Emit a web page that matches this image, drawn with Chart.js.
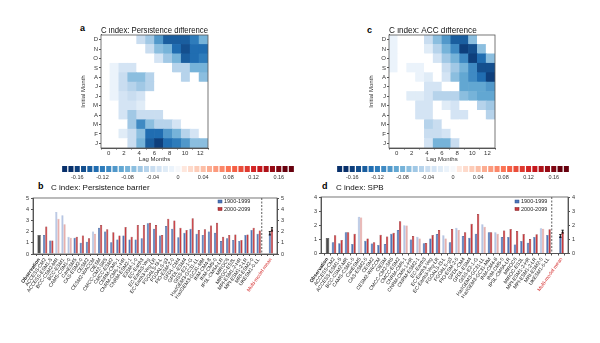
<!DOCTYPE html>
<html>
<head>
<meta charset="utf-8">
<title>C index: persistence and spring predictability barrier</title>
<script src="https://cdn.jsdelivr.net/npm/chart.js@4.4.1/dist/chart.umd.min.js"></script>
<style>
  html, body { margin: 0; padding: 0; background: #fff; }
  #fig { position: relative; width: 600px; height: 343px; overflow: hidden; font-family: 'Liberation Sans', Arial, sans-serif; }
  #fig canvas { position: absolute; }
  .tag { position: absolute; font-weight: bold; font-size: 9px; line-height: 9px; color: #000; }
</style>
</head>
<body>
<div id="fig">
  <div class="tag" style="left:80px;top:24px">a</div>
  <div class="tag" style="left:367px;top:26px">c</div>
  <div class="tag" style="left:38px;top:182px">b</div>
  <div class="tag" style="left:322px;top:182px">d</div>
  <canvas id="heatA" width="133" height="136" style="left:80px;top:27px"></canvas>
  <canvas id="heatC" width="132" height="136" style="left:368px;top:27px"></canvas>
  <canvas id="barA" width="266" height="19" style="left:45px;top:164px"></canvas>
  <canvas id="barC" width="266" height="19" style="left:320px;top:164px"></canvas>
  <canvas id="pb" width="300" height="163" style="left:0px;top:180px"></canvas>
  <canvas id="spb" width="300" height="163" style="left:300px;top:180px"></canvas>
</div>
<script>
// Heatmap rows run from January (bottom) to December (top), columns are lag 1..12 months
const monthLetters = ['J', 'F', 'M', 'A', 'M', 'J', 'J', 'A', 'S', 'O', 'N', 'D'];
const lagCols = ['1', '2', '3', '4', '5', '6', '7', '8', '9', '10', '11', '12'];

// persistence difference (2000-2099 minus 1900-1999), 0 = not significant
const persistenceDiff = [
	[0, 0, 0, -0.04, -0.08, -0.14, -0.16, -0.13, -0.12, -0.10, -0.07, -0.07],
	[0, 0, -0.02, -0.04, -0.07, -0.13, -0.13, -0.10, -0.08, -0.05, -0.03, 0],
	[0, 0, 0, -0.06, -0.11, -0.07, -0.05, -0.05, -0.03, 0, 0, 0],
	[0, 0, -0.03, -0.06, -0.04, -0.04, -0.04, 0, 0, 0, 0, 0],
	[0, 0, -0.03, -0.03, -0.02, 0, 0, 0, 0, 0, 0, 0],
	[0, -0.01, -0.03, -0.04, -0.03, 0, 0, 0, 0, 0, 0, 0],
	[0, -0.01, -0.04, -0.05, -0.06, -0.05, 0, 0, 0, 0, 0, 0],
	[0, -0.01, -0.04, -0.07, -0.07, -0.05, 0, 0, 0, -0.05, 0, -0.07],
	[0, -0.01, -0.03, -0.03, 0, 0, 0, 0, -0.05, -0.05, -0.08, -0.08],
	[0, 0, 0, 0, 0, 0, -0.03, -0.06, -0.08, -0.14, -0.13, -0.12],
	[0, 0, 0, 0, 0, -0.04, -0.07, -0.08, -0.13, -0.15, -0.13, -0.13],
	[0, 0, 0, 0, -0.04, -0.06, -0.10, -0.14, -0.14, -0.14, -0.12, -0.08]
];

// ACC difference
const accDiff = [
	[0, 0, 0, 0, -0.03, -0.08, -0.08, -0.04, 0, 0, 0, 0],
	[0, 0, 0, 0, -0.04, -0.04, -0.03, 0, 0, 0, 0, 0],
	[0, 0, 0, 0, -0.05, -0.04, 0, 0, 0, 0, 0, 0],
	[0, 0, 0, -0.03, -0.03, 0, 0, -0.03, -0.03, 0, 0, -0.05],
	[0, 0, 0, -0.03, -0.03, 0, -0.02, -0.03, 0, 0, -0.05, -0.06],
	[0, 0, -0.02, -0.02, -0.03, -0.05, -0.05, -0.05, -0.07, -0.08, -0.09, -0.09],
	[0, 0, 0, 0, -0.03, -0.03, 0, 0, -0.09, -0.09, -0.09, -0.10],
	[0, 0, 0, -0.01, -0.02, 0, -0.03, -0.07, -0.09, -0.11, -0.13, -0.16],
	[-0.005, 0, -0.01, -0.01, 0, 0, -0.04, -0.06, -0.08, -0.11, -0.15, -0.15],
	[-0.005, 0, 0, 0, 0, -0.03, -0.06, -0.08, -0.11, -0.16, -0.13, -0.07],
	[-0.005, 0, 0, 0, -0.02, -0.05, -0.08, -0.11, -0.16, -0.15, -0.07, 0],
	[-0.005, 0, 0, 0, -0.04, -0.07, -0.10, -0.14, -0.14, -0.07, 0, 0]
];

// colour bar levels and the ones that get a label
const cbarLevels = [
	-0.18, -0.17, -0.16, -0.15, -0.14, -0.13, -0.12, -0.11, -0.10, -0.09, -0.08, -0.07, -0.06,
	-0.05, -0.04, -0.03, -0.02, -0.01, 0, 0.01, 0.02, 0.03, 0.04, 0.05,
	0.06, 0.07, 0.08, 0.09, 0.10, 0.11, 0.12, 0.13, 0.14, 0.15, 0.16, 0.17, 0.18
];
const cbarTicks = [-0.16, -0.12, -0.08, -0.04, 0, 0.04, 0.08, 0.12, 0.16];

// --- persistence barrier (panel b) ---
const pbModels = [
	'ACCESS-CM2', 'ACCESS-ESM1-5', 'BCC-CSM2-MR', 'BCC-ESM1', 'CAMS-CSM1-0', 'CanESM5',
	'CAS-ESM2-0', 'CESM2', 'CESM2-WACCM', 'CIESM', 'CMCC-CM2-SR5', 'CMCC-ESM2',
	'CNRM-CM6-1', 'CNRM-CM6-1-HR', 'CNRM-ESM2-1', 'E3SM-1-0', 'EC-Earth3', 'EC-Earth3-Veg',
	'EC-Earth3-Veg-LR', 'FGOALS-f3-L', 'FGOALS-g3', 'FIO-ESM-2-0', 'GFDL-CM4', 'GFDL-ESM4',
	'GISS-E2-1-G', 'HadGEM3-GC31-LL', 'HadGEM3-GC31-MM', 'INM-CM4-8', 'INM-CM5-0', 'IPSL-CM6A-LR',
	'MIROC6', 'MIROC-ES2L', 'MPI-ESM1-2-HR', 'MPI-ESM1-2-LR', 'MRI-ESM2-0', 'UKESM1-0-LL'
];
const pbObs = 1.7;
const pb1900 = [
	1.7, 1.2, 3.75, 3.45, 1.55, 1.45, 1.0, 1.1, 2.0, 2.35, 2.0, 1.05,
	1.3, 1.65, 1.3, 1.3, 1.4, 2.75, 2.25, 1.65, 2.5, 2.25, 1.5, 1.9,
	2.25, 1.8, 1.7, 2.0, 1.9, 1.15, 1.4, 1.25, 1.15, 1.7, 2.15, 1.8
];
const pb2000 = [
	2.45, 1.2, 3.15, 2.65, 1.45, 1.55, 1.65, 1.4, 1.8, 2.6, 2.2, 1.95,
	1.65, 2.4, 1.55, 2.6, 2.6, 2.8, 2.6, 1.7, 3.15, 3.0, 2.35, 2.15,
	3.2, 2.15, 2.2, 2.55, 2.8, 1.55, 1.7, 1.75, 1.25, 1.75, 2.35, 2.1
];
const pbFaded = [2, 3, 4, 8];        // models whose change is not significant
const pbMean = [1.85, 2.2];
const pbSpread = [0.15, 0.15];

// --- SPB (panel d) ---
const spbModels = [
	'ACCESS-CM2', 'ACCESS-ESM1-5', 'BCC-CSM2-MR', 'CAMS-CSM1-0', 'CanESM5', 'CAS-ESM2-0',
	'CESM2', 'CESM2-WACCM', 'CIESM', 'CMCC-CM2-SR5', 'CMCC-ESM2', 'CNRM-CM6-1',
	'CNRM-CM6-1-HR', 'CNRM-ESM2-1', 'EC-Earth3', 'EC-Earth3-Veg', 'EC-Earth3-Veg-LR', 'FGOALS-f3-L',
	'FGOALS-g3', 'FIO-ESM-2-0', 'GFDL-CM4', 'GFDL-ESM4', 'GISS-E2-1-G', 'HadGEM3-GC31-LL',
	'HadGEM3-GC31-MM', 'INM-CM4-8', 'INM-CM5-0', 'IPSL-CM6A-LR', 'MIROC6', 'MIROC-ES2L',
	'MPI-ESM1-2-HR', 'MPI-ESM1-2-LR', 'MRI-ESM2-0', 'UKESM1-0-LL'
];
const spbObs = 1.1;
const spb1900 = [
	0.8, 0.72, 1.5, 0.67, 2.6, 0.9, 0.7, 0.6, 0.67, 1.4, 1.67, 2.0,
	1.0, 1.19, 0.72, 1.07, 1.38, 1.29, 0.8, 1.83, 1.24, 1.12, 1.4, 2.07,
	1.5, 1.5, 1.17, 1.17, 0.64, 0.88, 0.76, 1.17, 1.79, 1.31
];
const spb2000 = [
	1.3, 0.95, 1.5, 1.4, 2.55, 1.07, 0.8, 1.33, 1.2, 1.47, 2.28, 1.98,
	1.24, 1.07, 0.74, 1.31, 1.67, 1.07, 1.74, 1.67, 1.5, 2.1, 2.79, 1.9,
	1.5, 1.4, 1.62, 1.74, 1.6, 1.38, 1.02, 1.36, 1.76, 1.71
];
const spbFaded = [4, 11, 13, 17, 19, 23, 25, 32];
const spbMean = [1.24, 1.55];
const spbSpread = [0.1, 0.1];

const fontFamily = "'Liberation Sans', Arial, sans-serif";
Chart.defaults.font.family = fontFamily;
Chart.defaults.color = '#222';
Chart.defaults.animation = false;
Chart.defaults.plugins.tooltip.enabled = false;
Chart.defaults.plugins.legend.display = false;

const axisColor = '#555';
const blueStops = [[247, 251, 255], [198, 219, 239], [107, 174, 214], [33, 113, 181], [8, 48, 107]];
const redStops = [[255, 245, 240], [252, 187, 161], [251, 106, 74], [203, 24, 29], [103, 0, 13]];

function ramp(stops, t) {
	const p = t * (stops.length - 1);
	const i = Math.min(Math.floor(p), stops.length - 2);
	const f = p - i;
	const c = stops[i].map((a, k) => Math.round(a + (stops[i + 1][k] - a) * f));
	return `rgb(${c})`;
}

// one colour per 0.01 step, blue below zero and red above
function levelColor(v) {
	const level = Math.round(Math.abs(v) * 100);
	if (level === 0) return '#f6f8fb';
	return ramp(v < 0 ? blueStops : redStops, Math.min(level, 17) / 17);
}

function cellColor(v) {
	return v === 0 ? '#ffffff' : levelColor(v);
}

// box around the plotting area
const frame = {
	id: 'frame',
	afterDraw(chart) {
		const a = chart.chartArea, c = chart.ctx;
		c.save();
		c.strokeStyle = axisColor;
		c.lineWidth = 0.8;
		c.strokeRect(a.left, a.top, a.right - a.left, a.bottom - a.top);
		c.restore();
	}
};

function heatmap(id, title, rows) {
	const datasets = rows.map((row, i) => ({
		label: monthLetters[i],
		data: row.map(() => 1),
		backgroundColor: row.map(cellColor),
		borderWidth: 0,
		barPercentage: 1,
		categoryPercentage: 1,
		xAxisID: 'x',
		yAxisID: 'y'
	}));
	new Chart(document.getElementById(id), {
		type: 'bar',
		data: { labels: lagCols, datasets },
		plugins: [frame],
		options: {
			responsive: false,
			layout: { padding: { left: 0, right: 5, top: 0, bottom: 0 } },
			plugins: {
				title: {
					display: true, text: title, align: 'start', fullSize: false,
					color: '#111', font: { size: 8.2, weight: 'normal', lineHeight: 1 },
					padding: { top: 0, bottom: -0.2 }
				}
			},
			scales: {
				x: { type: 'category', stacked: true, display: false },
				lag: {
					type: 'linear', position: 'bottom', min: 0, max: 12,
					ticks: { stepSize: 2, font: { size: 6 }, color: '#333', padding: 0, maxRotation: 0 },
					grid: { drawOnChartArea: false, tickLength: 1.5, color: axisColor },
					border: { color: axisColor },
					title: { display: true, text: 'Lag Months', font: { size: 6 }, color: '#333', padding: 0 },
					afterFit: s => { s.height = 15; }
				},
				y: {
					type: 'linear', stacked: true, min: 0, max: 12,
					afterBuildTicks: s => { s.ticks = monthLetters.map((m, i) => ({ value: i + 0.5 })); },
					ticks: {
						autoSkip: false, font: { size: 6 }, color: '#333', padding: 1,
						callback: v => monthLetters[Math.floor(v)]
					},
					grid: { drawOnChartArea: false, tickLength: 2, color: axisColor },
					border: { color: axisColor },
					title: { display: true, text: 'Initial Month', font: { size: 6 }, color: '#333', padding: 0 },
					afterFit: s => { s.width = 21; }
				}
			}
		}
	});
}

function colorbar(id) {
	new Chart(document.getElementById(id), {
		type: 'bar',
		data: {
			labels: cbarLevels.map(String),
			datasets: [{
				data: cbarLevels.map(() => 1),
				backgroundColor: cbarLevels.map(levelColor),
				borderWidth: 0,
				barPercentage: 0.8,
				categoryPercentage: 1
			}]
		},
		options: {
			responsive: false,
			layout: { padding: { left: 16.5, right: 16.5, top: 2, bottom: 0 } },
			scales: {
				x: {
					grid: { display: false, drawTicks: false },
					border: { display: false },
					ticks: {
						autoSkip: false, maxRotation: 0, padding: 2, font: { size: 5.5 }, color: '#333',
						callback: (v, i) => {
							const lv = cbarLevels[i];
							if (!cbarTicks.some(t => Math.abs(t - lv) < 1e-9)) return '';
							return lv === 0 ? '0' : lv.toFixed(2);
						}
					},
					afterFit: s => { s.height = 11; }
				},
				y: { display: false, min: 0, max: 1 }
			}
		}
	});
}

// panel title, set a little right of the axis
const caption = {
	id: 'caption',
	afterDraw(chart, args, opts) {
		const a = chart.chartArea, c = chart.ctx;
		c.save();
		c.font = `8px ${fontFamily}`;
		c.fillStyle = '#111';
		c.textBaseline = 'middle';
		c.fillText(opts.text, a.left + opts.dx, a.top - opts.dy);
		c.restore();
	}
};

// dashed separator before the multi-model mean
const divider = {
	id: 'divider',
	afterDatasetsDraw(chart, args, opts) {
		const x = chart.scales.x, a = chart.chartArea, c = chart.ctx;
		const px = (x.getPixelForValue(opts.index - 1) + x.getPixelForValue(opts.index)) / 2;
		c.save();
		c.strokeStyle = '#333';
		c.lineWidth = 0.8;
		c.setLineDash([2, 1.5]);
		c.beginPath();
		c.moveTo(px, a.top);
		c.lineTo(px, a.bottom);
		c.stroke();
		c.restore();
	}
};

// spread across models on the mean bars
const whiskers = {
	id: 'whiskers',
	afterDatasetsDraw(chart, args, opts) {
		const y = chart.scales.y, c = chart.ctx;
		chart.data.datasets.forEach((ds, di) => {
			if (ds.spread == null) return;
			const bar = chart.getDatasetMeta(di).data[opts.index];
			const v = ds.data[opts.index];
			const top = y.getPixelForValue(v + ds.spread);
			const bot = y.getPixelForValue(v - ds.spread);
			const w = bar.width / 2;
			c.save();
			c.strokeStyle = '#000';
			c.lineWidth = 0.9;
			c.beginPath();
			c.moveTo(bar.x, top); c.lineTo(bar.x, bot);
			c.moveTo(bar.x - w, top); c.lineTo(bar.x + w, top);
			c.moveTo(bar.x - w, bot); c.lineTo(bar.x + w, bot);
			c.stroke();
			c.restore();
		});
	}
};

// small key in the top right corner of the plot
const seriesKey = {
	id: 'seriesKey',
	afterDraw(chart, args, opts) {
		const a = chart.chartArea, c = chart.ctx;
		let y = a.top + opts.dy;
		c.save();
		c.font = `5.5px ${fontFamily}`;
		c.textBaseline = 'middle';
		chart.data.datasets.filter(ds => ds.key).forEach(ds => {
			const x = a.right - opts.dx;
			c.fillStyle = ds.key[0];
			c.fillRect(x, y - 1.5, 4, 3);
			c.strokeStyle = ds.key[1];
			c.lineWidth = 0.5;
			c.strokeRect(x, y - 1.5, 4, 3);
			c.fillStyle = '#222';
			c.fillText(ds.label, x + 6, y);
			y += 7.5;
		});
		c.restore();
	}
};

const blue = ['#4e76bb', '#2c4c86'], blueFaded = ['#b6c5e3', '#9aaed3'];
const red = ['#c9393e', '#7e1d21'], redFaded = ['#e8afad', '#d38f8d'];

function barPanel(id, title, models, obs, early, late, faded, mean, spread, yMax, geom) {
	const labels = ['', 'Observation', ...models, '', 'Multi-model mean', ''];
	const n = labels.length;
	const meanAt = n - 2, gapAt = n - 3;
	const blank = models.map(() => null);
	const pick = (i, on, off) => (faded.includes(i - 2) ? off : on);

	const datasets = [
		{
			label: 'Observation',
			data: [null, obs, ...blank, null, null, null],
			backgroundColor: '#4d4d4d', borderColor: '#222', borderWidth: 0.5,
			grouped: false, categoryPercentage: 0.55, barPercentage: 1
		},
		{
			label: '1900-1999', key: blue,
			data: [null, null, ...early, null, mean[0], null],
			spread: spread[0],
			backgroundColor: labels.map((l, i) => pick(i, blue, blueFaded)[0]),
			borderColor: labels.map((l, i) => pick(i, blue, blueFaded)[1]),
			borderWidth: 0.5, categoryPercentage: 0.7, barPercentage: 1
		},
		{
			label: '2000-2099', key: red,
			data: [null, null, ...late, null, mean[1], null],
			spread: spread[1],
			backgroundColor: labels.map((l, i) => pick(i, red, redFaded)[0]),
			borderColor: labels.map((l, i) => pick(i, red, redFaded)[1]),
			borderWidth: 0.5, categoryPercentage: 0.7, barPercentage: 1
		}
	];

	const yAxis = (position, width) => ({
		type: 'linear', position, min: 0, max: yMax,
		ticks: { stepSize: 1, font: { size: 5.5 }, color: '#333', padding: 2 },
		grid: { drawOnChartArea: false, tickLength: 2, color: axisColor },
		border: { color: axisColor },
		afterFit: s => { s.width = width; }
	});

	new Chart(document.getElementById(id), {
		type: 'bar',
		data: { labels, datasets },
		plugins: [frame, divider, whiskers, seriesKey, caption],
		options: {
			responsive: false,
			layout: { padding: { top: geom.top, left: 0, right: 0, bottom: 0 } },
			plugins: {
				caption: { text: title, dx: geom.titleDx, dy: geom.titleDy },
				divider: { index: gapAt },
				whiskers: { index: meanAt },
				seriesKey: { dx: geom.keyDx, dy: geom.keyDy }
			},
			scales: {
				x: {
					type: 'category', offset: false,
					grid: { drawOnChartArea: false, tickLength: 2, color: axisColor },
					border: { color: axisColor },
					ticks: {
						autoSkip: false, minRotation: 55, maxRotation: 55, padding: 1,
						font: ctx => ({ size: 5, weight: ctx.index === 1 ? 'bold' : 'normal' }),
						color: ctx => (ctx.index === meanAt ? '#d42a2a' : '#222')
					},
					afterFit: s => { s.height = geom.axisHeight; }
				},
				y: yAxis('left', geom.left),
				y2: yAxis('right', geom.right)
			}
		}
	});
}

heatmap('heatA', 'C index: Persistence difference', persistenceDiff);
heatmap('heatC', 'C index: ACC difference', accDiff);
colorbar('barA');
colorbar('barC');
barPanel('pb', 'C index: Persistence barrier', pbModels, pbObs, pb1900, pb2000, pbFaded,
	pbMean, pbSpread, 5, { top: 18, left: 33, right: 23, axisHeight: 89, titleDx: 18, titleDy: 10, keyDx: 59, keyDy: 3.5 });
barPanel('spb', 'C index: SPB', spbModels, spbObs, spb1900, spb2000, spbFaded,
	spbMean, spbSpread, 4, { top: 17, left: 21, right: 32, axisHeight: 89.5, titleDx: 15, titleDy: 9, keyDx: 53, keyDy: 4.5 });
</script>
</body>
</html>
